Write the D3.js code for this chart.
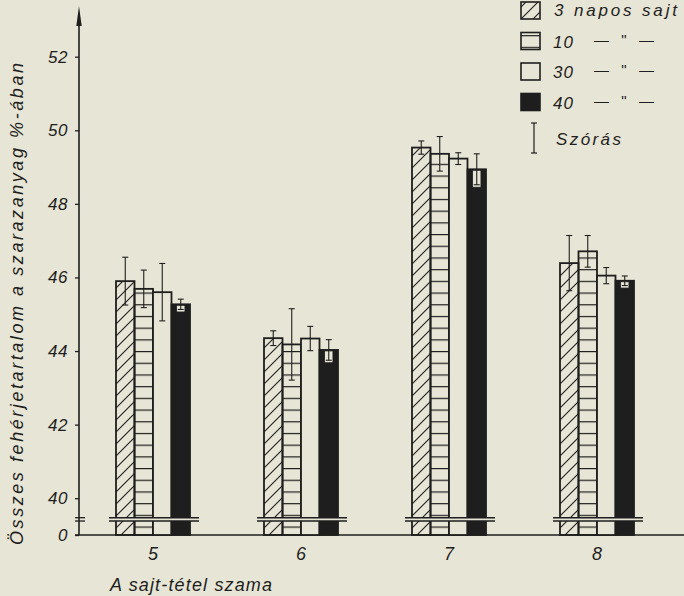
<!DOCTYPE html>
<html>
<head>
<meta charset="utf-8">
<script src="https://cdn.jsdelivr.net/npm/d3@7"></script>
<style>
  html, body { margin: 0; padding: 0; background: #e7e5d5; }
  svg { display: block; }
  text { font-family: "Liberation Sans", Arial, sans-serif; font-style: italic; fill: #1e1e1e; }
</style>
</head>
<body>
<svg></svg>
<script>
const width = 684;
const height = 596;
const ink = '#1e1e1e';
const paper = '#e7e5d5';

// data
const categories = ['5', '6', '7', '8'];
const seriesNames = ['3 napos sajt', '10', '30', '40'];
const means = [
    [45.90, 44.35, 49.53, 46.39],   // 3 napos
    [45.69, 44.18, 49.36, 46.71],   // 10
    [45.60, 44.34, 49.23, 46.05],   // 30
    [45.27, 44.03, 48.94, 45.91]    // 40
];
const sds = [
    [0.65, 0.20, 0.18, 0.75],
    [0.51, 0.97, 0.47, 0.43],
    [0.78, 0.33, 0.16, 0.22],
    [0.14, 0.28, 0.42, 0.13]
];
const yTickValues = [40, 42, 44, 46, 48, 50, 52];
const zeroAt = 39;            // the broken axis puts "0" one unit below 40
const breakValues = [39.47, 39.38];

const svg = d3.select('svg')
    .attr('width', width)
    .attr('height', height);

const yScale = d3.scaleLinear()
    .domain([zeroAt, 52])
    .range([535, 56.7]);

const xScale = d3.scaleBand()
    .domain(categories)
    .range([79, 671])
    .paddingInner(0.5)
    .paddingOuter(0.25);

const xSub = d3.scaleBand()
    .domain(d3.range(seriesNames.length))
    .range([0, xScale.bandwidth()]);

// hatch patterns
const defs = svg.append('defs');
defs.append('pattern')
    .attr('id', 'diag')
    .attr('patternUnits', 'userSpaceOnUse')
    .attr('width', 12).attr('height', 12)
    .append('path')
        .attr('d', 'M0,12 L12,0 M-3,3 L3,-3 M9,15 L15,9')
        .attr('stroke', ink)
        .attr('stroke-width', 1.1);
defs.append('pattern')
    .attr('id', 'horiz')
    .attr('patternUnits', 'userSpaceOnUse')
    .attr('width', 10).attr('height', 11.7)
    .append('path')
        .attr('d', 'M0,0.6 H10')
        .attr('stroke', ink)
        .attr('stroke-width', 1.2);

const fills = ['url(#diag)', 'url(#horiz)', paper, ink];

// y axis
const yAxis = d3.axisLeft(yScale)
    .tickValues([zeroAt].concat(yTickValues))
    .tickSize(4)
    .tickPadding(7)
    .tickFormat(d => d === zeroAt ? '0' : d);

const yG = svg.append('g')
    .attr('transform', 'translate(79, 0)')
    .call(yAxis);
yG.select('.domain').remove();
yG.selectAll('line').attr('stroke', ink).attr('stroke-width', 1.3);
yG.selectAll('text')
    .attr('font-family', null)
    .style('font-size', '17px')
    .style('letter-spacing', '0.5px')
    .attr('fill', ink);
yG.attr('font-family', null).attr('font-size', null);

svg.append('path')
    .attr('d', `M79,${yScale(zeroAt)} V20`)
    .attr('stroke', ink)
    .attr('stroke-width', 1.6);
svg.append('path')
    .attr('d', 'M79,6 L76.3,26 L81.7,26 Z')
    .attr('fill', ink);

// x axis
svg.append('line')
    .attr('x1', 75).attr('x2', width)
    .attr('y1', yScale(zeroAt)).attr('y2', yScale(zeroAt))
    .attr('stroke', ink)
    .attr('stroke-width', 1.4);

const xAxis = d3.axisBottom(xScale).tickSize(0).tickPadding(12);
const xG = svg.append('g')
    .attr('transform', `translate(0, ${yScale(zeroAt)})`)
    .call(xAxis);
xG.select('.domain').remove();
xG.attr('font-family', null).attr('font-size', null);
xG.selectAll('text').style('font-size', '18px').attr('fill', ink);

// bars
const groups = svg.append('g')
    .selectAll('g')
    .data(categories)
    .enter()
    .append('g')
        .attr('transform', c => `translate(${xScale(c)}, 0)`);

groups.each(function (c, ci) {
    const g = d3.select(this);
    const rows = seriesNames.map((name, si) => ({ si, m: means[si][ci], sd: sds[si][ci] }));

    g.selectAll('rect.bar')
        .data(rows)
        .enter()
        .append('rect')
            .attr('class', 'bar')
            .attr('x', d => xSub(d.si))
            .attr('y', d => yScale(d.m))
            .attr('width', xSub.bandwidth())
            .attr('height', d => yScale(zeroAt) - yScale(d.m))
            .attr('fill', d => fills[d.si])
            .attr('stroke', ink)
            .attr('stroke-width', 1.8);

    // window cut into the black bar so its error bar shows
    const black = rows[3];
    const cx = xSub(3) + xSub.bandwidth() / 2;
    g.append('rect')
        .attr('x', cx - 4.2)
        .attr('y', yScale(black.m) + 1)
        .attr('width', 8.4)
        .attr('height', yScale(black.m - black.sd) - yScale(black.m) + 1.5)
        .attr('fill', paper)
        .attr('stroke', ink)
        .attr('stroke-width', 0.8);

    const err = g.selectAll('g.err')
        .data(rows)
        .enter()
        .append('g')
            .attr('class', 'err')
            .attr('transform', d => `translate(${xSub(d.si) + xSub.bandwidth() / 2}, 0)`)
            .attr('stroke', ink)
            .attr('stroke-width', 1.1);
    err.append('line')
        .attr('y1', d => yScale(d.m + d.sd))
        .attr('y2', d => yScale(d.m - d.sd));
    err.append('line')
        .attr('x1', -3).attr('x2', 3)
        .attr('y1', d => yScale(d.m + d.sd))
        .attr('y2', d => yScale(d.m + d.sd));
    err.append('line')
        .attr('x1', -3).attr('x2', 3)
        .attr('y1', d => yScale(d.m - d.sd))
        .attr('y2', d => yScale(d.m - d.sd));

    // axis break strip across the group
    g.append('rect')
        .attr('x', -7)
        .attr('y', yScale(breakValues[0]))
        .attr('width', xScale.bandwidth() + 16)
        .attr('height', yScale(breakValues[1]) - yScale(breakValues[0]))
        .attr('fill', paper);
    breakValues.forEach(v => {
        g.append('line')
            .attr('x1', -7).attr('x2', xScale.bandwidth() + 9)
            .attr('y1', yScale(v)).attr('y2', yScale(v))
            .attr('stroke', ink)
            .attr('stroke-width', 1.4);
    });
});

// break marks on the y axis
breakValues.forEach(v => {
    svg.append('line')
        .attr('x1', 75).attr('x2', 85)
        .attr('y1', yScale(v)).attr('y2', yScale(v))
        .attr('stroke', ink)
        .attr('stroke-width', 1.3);
});

// axis titles
svg.append('text')
    .attr('transform', 'translate(23, 304) rotate(-90)')
    .attr('text-anchor', 'middle')
    .attr('textLength', 482)
    .attr('lengthAdjust', 'spacing')
    .style('font-size', '18px')
    .text('Összes fehérjetartalom a szarazanyag %-ában');

svg.append('text')
    .attr('x', 110)
    .attr('y', 591)
    .attr('textLength', 162)
    .attr('lengthAdjust', 'spacing')
    .style('font-size', '18px')
    .text('A sajt-tétel szama');

// legend
const legend = svg.append('g');
const rowTop = i => 2 + i * 30.5;

seriesNames.forEach((name, i) => {
    legend.append('rect')
        .attr('x', 521)
        .attr('y', rowTop(i))
        .attr('width', 19)
        .attr('height', 17)
        .attr('fill', fills[i])
        .attr('stroke', ink)
        .attr('stroke-width', 1.6);
    if (i === 0) {
        legend.append('text')
            .attr('x', 554)
            .attr('y', rowTop(i) + 14)
            .attr('textLength', 123)
            .attr('lengthAdjust', 'spacing')
            .style('font-size', '17px')
            .text(name);
    } else {
        legend.append('text')
            .attr('x', 553)
            .attr('y', rowTop(i) + 15)
            .style('font-size', '17px')
            .style('letter-spacing', '1px')
            .text(name);
        legend.append('text')
            .attr('x', 594)
            .attr('y', rowTop(i) + 12)
            .attr('textLength', 60)
            .attr('lengthAdjust', 'spacing')
            .style('font-size', '15px')
            .style('font-style', 'normal')
            .text('— " —');
    }
});

const sdIcon = legend.append('g')
    .attr('stroke', ink)
    .attr('stroke-width', 1.2);
sdIcon.append('line').attr('x1', 534).attr('x2', 534).attr('y1', 123).attr('y2', 153);
sdIcon.append('line').attr('x1', 531).attr('x2', 537).attr('y1', 123).attr('y2', 123);
sdIcon.append('line').attr('x1', 531).attr('x2', 537).attr('y1', 153).attr('y2', 153);

legend.append('text')
    .attr('x', 556)
    .attr('y', 145)
    .attr('textLength', 65)
    .attr('lengthAdjust', 'spacing')
    .style('font-size', '17px')
    .text('Szórás');
</script>
</body>
</html>
